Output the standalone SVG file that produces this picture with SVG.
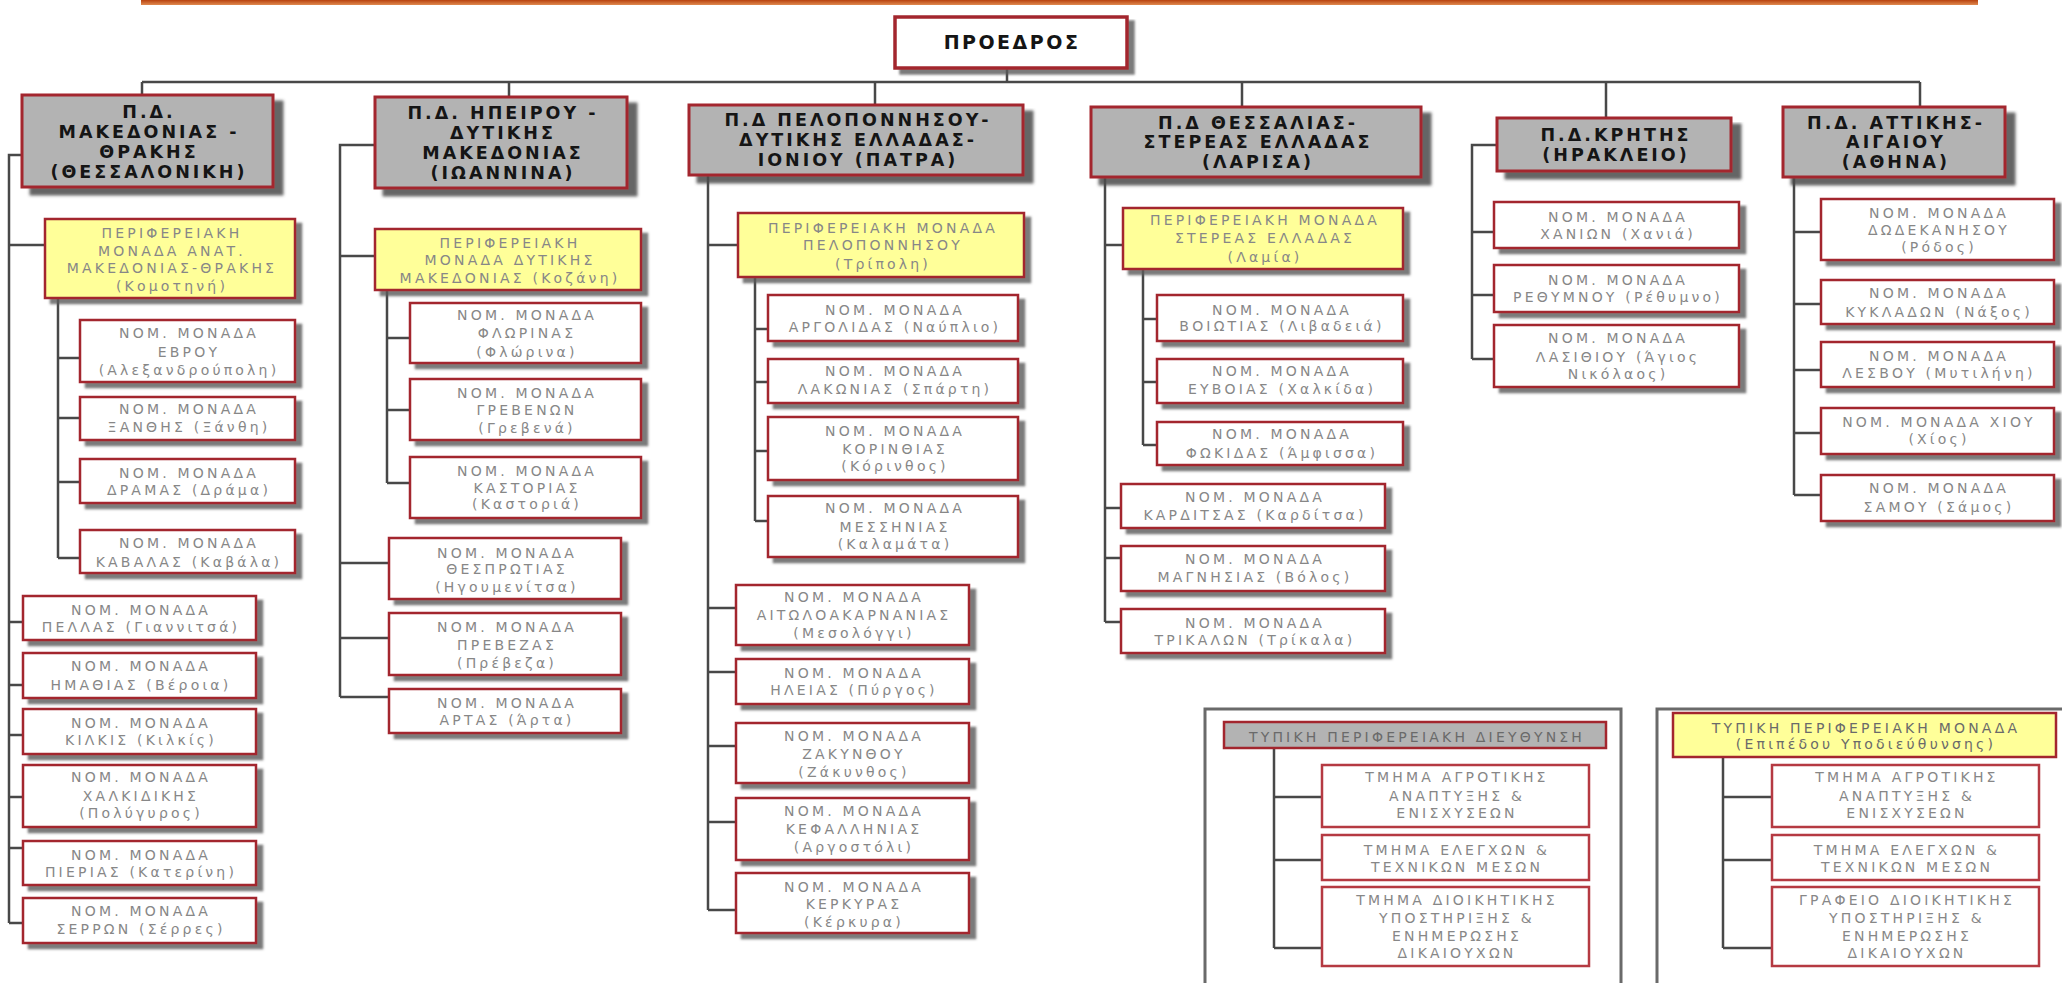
<svg xmlns="http://www.w3.org/2000/svg" width="2062" height="983" viewBox="0 0 2062 983">
<defs>
<filter id="shH" x="-5%" y="-5%" width="115%" height="130%"><feGaussianBlur in="SourceAlpha" stdDeviation="1.5"/><feOffset dx="9" dy="7" result="o"/><feFlood flood-color="#4a4a4a" flood-opacity="0.85"/><feComposite in2="o" operator="in"/><feMerge><feMergeNode/><feMergeNode in="SourceGraphic"/></feMerge></filter>
<filter id="shC" x="-5%" y="-5%" width="115%" height="130%"><feGaussianBlur in="SourceAlpha" stdDeviation="1.2"/><feOffset dx="6" dy="5" result="o"/><feFlood flood-color="#5a5a5a" flood-opacity="0.8"/><feComposite in2="o" operator="in"/><feMerge><feMergeNode/><feMergeNode in="SourceGraphic"/></feMerge></filter>
<linearGradient id="topbar" x1="0" y1="0" x2="0" y2="1"><stop offset="0" stop-color="#b8420f"/><stop offset="1" stop-color="#e08a50"/></linearGradient>
</defs>
<style>
.hd rect{fill:#b3b3b3;stroke:#a3262e;stroke-width:3;filter:url(#shH)}
.nm rect{fill:#ffffff;stroke:#a3262e;stroke-width:2.5;filter:url(#shC)}
.pm rect{fill:#ffff99;stroke:#a3262e;stroke-width:2.5;filter:url(#shC)}
.lg rect{fill:#ffffff;stroke:#b53a42;stroke-width:2.5}
.lgh rect{fill:#b3b3b3;stroke:#a3262e;stroke-width:2.5}
.lgy rect{fill:#ffff99;stroke:#a3262e;stroke-width:2.5}
.top rect{fill:#ffffff;stroke:#a3262e;stroke-width:3.5;filter:url(#shC)}
.hd text,.top text{font-family:"DejaVu Sans",Verdana,sans-serif;font-weight:bold;font-size:17.5px;fill:#151515;text-anchor:middle;letter-spacing:3px}
.top text{font-size:19px;letter-spacing:2.5px}
.nm text,.pm text,.lg text,.lgh text,.lgy text{font-family:"DejaVu Sans",Verdana,sans-serif;font-size:14px;fill:#878787;text-anchor:middle;letter-spacing:3.2px}
.lgh text,.lgy text{fill:#6a6a6a}
#connectors path{fill:none;stroke:#484848;stroke-width:2.5}
#frames path{fill:none;stroke:#6a6a6a;stroke-width:3}
</style>
<rect x="141" y="0" width="1837" height="5" fill="url(#topbar)"/>
<g id="connectors">
<path d="M1007 68V82M142 82H1920M142 82V95M509 82V97M875 82V105M1242 82V107M1606 82V118M1920 82V107"/>
<path d="M22 155H9V923M9 245H45M9 622H23M9 685H23M9 735H23M9 797H23M9 848H23M9 923H23"/>
<path d="M58 298V558M58 358H80M58 418H80M58 482H80M58 558H80"/>
<path d="M375 145H340V697M340 256H375M340 563H389M340 638H389M340 697H389"/>
<path d="M387 290V483M387 338H410M387 410H410M387 483H410"/>
<path d="M708 175V910M708 245H738M708 608H736M708 672H736M708 746H736M708 822H736M708 910H736"/>
<path d="M755 277V521M755 329H768M755 382H768M755 451H768M755 521H768"/>
<path d="M1105 177V622M1105 245H1123M1105 508H1121M1105 558H1121M1105 622H1121"/>
<path d="M1143 269V445M1143 319H1157M1143 382H1157M1143 445H1157"/>
<path d="M1497 145H1472V359M1472 232H1494M1472 295H1494M1472 359H1494"/>
<path d="M1794 177V495M1794 232H1821M1794 304H1821M1794 370H1821M1794 433H1821M1794 495H1821"/>
<path d="M1274 748V948M1274 797H1322M1274 860H1322M1274 948H1322"/>
<path d="M1723 757V948M1723 797H1772M1723 860H1772M1723 948H1772"/>
</g>
<g id="frames">
<path d="M1205 990V709H1621V990"/>
<path d="M1657 990V709H2070"/>
</g>
<g id="proedros" class="top"><rect x="895" y="17" width="232" height="51"/><text x="1012" y="49">ΠΡΟΕΔΡΟΣ</text></g>

<g id="pd-makedonias" class="hd"><rect x="22" y="95" width="251" height="92"/><text x="149" y="118">Π.Δ.</text><text x="149" y="138">ΜΑΚΕΔΟΝΙΑΣ -</text><text x="149" y="158">ΘΡΑΚΗΣ</text><text x="149" y="178">(ΘΕΣΣΑΛΟΝΙΚΗ)</text></g>
<g id="pd-ipeirou" class="hd"><rect x="375" y="97" width="252" height="91"/><text x="503" y="119">Π.Δ. ΗΠΕΙΡΟΥ -</text><text x="503" y="139">ΔΥΤΙΚΗΣ</text><text x="503" y="159">ΜΑΚΕΔΟΝΙΑΣ</text><text x="503" y="179">(ΙΩΑΝΝΙΝΑ)</text></g>
<g id="pd-peloponnisou" class="hd"><rect x="689" y="105" width="334" height="70"/><text x="858" y="126">Π.Δ ΠΕΛΟΠΟΝΝΗΣΟΥ-</text><text x="858" y="146">ΔΥΤΙΚΗΣ ΕΛΛΑΔΑΣ-</text><text x="858" y="166">ΙΟΝΙΟΥ (ΠΑΤΡΑ)</text></g>
<g id="pd-thessalias" class="hd"><rect x="1091" y="107" width="330" height="70"/><text x="1258" y="129">Π.Δ ΘΕΣΣΑΛΙΑΣ-</text><text x="1258" y="148">ΣΤΕΡΕΑΣ ΕΛΛΑΔΑΣ</text><text x="1258" y="168">(ΛΑΡΙΣΑ)</text></g>
<g id="pd-kritis" class="hd"><rect x="1497" y="118" width="234" height="53"/><text x="1616" y="141">Π.Δ.ΚΡΗΤΗΣ</text><text x="1616" y="161">(ΗΡΑΚΛΕΙΟ)</text></g>
<g id="pd-attikis" class="hd"><rect x="1783" y="107" width="222" height="70"/><text x="1896" y="129">Π.Δ. ΑΤΤΙΚΗΣ-</text><text x="1896" y="148">ΑΙΓΑΙΟΥ</text><text x="1896" y="168">(ΑΘΗΝΑ)</text></g>

<g id="pm-amth" class="pm"><rect x="45" y="219" width="250" height="79"/><text x="172" y="238">ΠΕΡΙΦΕΡΕΙΑΚΗ</text><text x="172" y="256">ΜΟΝΑΔΑ ΑΝΑΤ.</text><text x="172" y="273">ΜΑΚΕΔΟΝΙΑΣ-ΘΡΑΚΗΣ</text><text x="172" y="291">(Κομοτηνή)</text></g>
<g id="nm-evrou" class="nm"><rect x="80" y="320" width="215" height="62"/><text x="189" y="338">ΝΟΜ. ΜΟΝΑΔΑ</text><text x="189" y="357">ΕΒΡΟΥ</text><text x="189" y="375">(Αλεξανδρούπολη)</text></g>
<g id="nm-xanthis" class="nm"><rect x="80" y="397" width="215" height="43"/><text x="189" y="414">ΝΟΜ. ΜΟΝΑΔΑ</text><text x="189" y="432">ΞΑΝΘΗΣ (Ξάνθη)</text></g>
<g id="nm-dramas" class="nm"><rect x="80" y="459" width="215" height="44"/><text x="189" y="478">ΝΟΜ. ΜΟΝΑΔΑ</text><text x="189" y="495">ΔΡΑΜΑΣ (Δράμα)</text></g>
<g id="nm-kavalas" class="nm"><rect x="80" y="530" width="215" height="43"/><text x="189" y="548">ΝΟΜ. ΜΟΝΑΔΑ</text><text x="189" y="567">ΚΑΒΑΛΑΣ (Καβάλα)</text></g>
<g id="nm-pellas" class="nm"><rect x="23" y="596" width="233" height="44"/><text x="141" y="615">ΝΟΜ. ΜΟΝΑΔΑ</text><text x="141" y="632">ΠΕΛΛΑΣ (Γιαννιτσά)</text></g>
<g id="nm-imathias" class="nm"><rect x="23" y="653" width="233" height="45"/><text x="141" y="671">ΝΟΜ. ΜΟΝΑΔΑ</text><text x="141" y="690">ΗΜΑΘΙΑΣ (Βέροια)</text></g>
<g id="nm-kilkis" class="nm"><rect x="23" y="709" width="233" height="45"/><text x="141" y="728">ΝΟΜ. ΜΟΝΑΔΑ</text><text x="141" y="745">ΚΙΛΚΙΣ (Κιλκίς)</text></g>
<g id="nm-chalkidikis" class="nm"><rect x="23" y="765" width="233" height="62"/><text x="141" y="782">ΝΟΜ. ΜΟΝΑΔΑ</text><text x="141" y="801">ΧΑΛΚΙΔΙΚΗΣ</text><text x="141" y="818">(Πολύγυρος)</text></g>
<g id="nm-pierias" class="nm"><rect x="23" y="841" width="233" height="44"/><text x="141" y="860">ΝΟΜ. ΜΟΝΑΔΑ</text><text x="141" y="877">ΠΙΕΡΙΑΣ (Κατερίνη)</text></g>
<g id="nm-serron" class="nm"><rect x="23" y="898" width="233" height="45"/><text x="141" y="916">ΝΟΜ. ΜΟΝΑΔΑ</text><text x="141" y="934">ΣΕΡΡΩΝ (Σέρρες)</text></g>

<g id="pm-dm" class="pm"><rect x="375" y="229" width="266" height="61"/><text x="510" y="248">ΠΕΡΙΦΕΡΕΙΑΚΗ</text><text x="510" y="265">ΜΟΝΑΔΑ ΔΥΤΙΚΗΣ</text><text x="510" y="283">ΜΑΚΕΔΟΝΙΑΣ (Κοζάνη)</text></g>
<g id="nm-florinas" class="nm"><rect x="410" y="303" width="231" height="60"/><text x="527" y="320">ΝΟΜ. ΜΟΝΑΔΑ</text><text x="527" y="338">ΦΛΩΡΙΝΑΣ</text><text x="527" y="357">(Φλώρινα)</text></g>
<g id="nm-grevenon" class="nm"><rect x="410" y="379" width="231" height="61"/><text x="527" y="398">ΝΟΜ. ΜΟΝΑΔΑ</text><text x="527" y="415">ΓΡΕΒΕΝΩΝ</text><text x="527" y="433">(Γρεβενά)</text></g>
<g id="nm-kastorias" class="nm"><rect x="410" y="457" width="231" height="61"/><text x="527" y="476">ΝΟΜ. ΜΟΝΑΔΑ</text><text x="527" y="493">ΚΑΣΤΟΡΙΑΣ</text><text x="527" y="509">(Καστοριά)</text></g>
<g id="nm-thesprotias" class="nm"><rect x="389" y="538" width="232" height="61"/><text x="507" y="558">ΝΟΜ. ΜΟΝΑΔΑ</text><text x="507" y="574">ΘΕΣΠΡΩΤΙΑΣ</text><text x="507" y="592">(Ηγουμενίτσα)</text></g>
<g id="nm-prevezas" class="nm"><rect x="389" y="613" width="232" height="62"/><text x="507" y="632">ΝΟΜ. ΜΟΝΑΔΑ</text><text x="507" y="650">ΠΡΕΒΕΖΑΣ</text><text x="507" y="668">(Πρέβεζα)</text></g>
<g id="nm-artas" class="nm"><rect x="389" y="689" width="232" height="44"/><text x="507" y="708">ΝΟΜ. ΜΟΝΑΔΑ</text><text x="507" y="725">ΑΡΤΑΣ (Άρτα)</text></g>

<g id="pm-pel" class="pm"><rect x="738" y="213" width="286" height="64"/><text x="883" y="233">ΠΕΡΙΦΕΡΕΙΑΚΗ ΜΟΝΑΔΑ</text><text x="883" y="250">ΠΕΛΟΠΟΝΝΗΣΟΥ</text><text x="883" y="269">(Τρίπολη)</text></g>
<g id="nm-argolidas" class="nm"><rect x="768" y="295" width="250" height="46"/><text x="895" y="315">ΝΟΜ. ΜΟΝΑΔΑ</text><text x="895" y="332">ΑΡΓΟΛΙΔΑΣ (Ναύπλιο)</text></g>
<g id="nm-lakonias" class="nm"><rect x="768" y="359" width="250" height="44"/><text x="895" y="376">ΝΟΜ. ΜΟΝΑΔΑ</text><text x="895" y="394">ΛΑΚΩΝΙΑΣ (Σπάρτη)</text></g>
<g id="nm-korinthias" class="nm"><rect x="768" y="417" width="250" height="63"/><text x="895" y="436">ΝΟΜ. ΜΟΝΑΔΑ</text><text x="895" y="454">ΚΟΡΙΝΘΙΑΣ</text><text x="895" y="471">(Κόρινθος)</text></g>
<g id="nm-messinias" class="nm"><rect x="768" y="496" width="250" height="61"/><text x="895" y="513">ΝΟΜ. ΜΟΝΑΔΑ</text><text x="895" y="532">ΜΕΣΣΗΝΙΑΣ</text><text x="895" y="549">(Καλαμάτα)</text></g>
<g id="nm-aitoloakarnanias" class="nm"><rect x="736" y="585" width="233" height="60"/><text x="854" y="602">ΝΟΜ. ΜΟΝΑΔΑ</text><text x="854" y="620">ΑΙΤΩΛΟΑΚΑΡΝΑΝΙΑΣ</text><text x="854" y="638">(Μεσολόγγι)</text></g>
<g id="nm-ileias" class="nm"><rect x="736" y="659" width="233" height="45"/><text x="854" y="678">ΝΟΜ. ΜΟΝΑΔΑ</text><text x="854" y="695">ΗΛΕΙΑΣ (Πύργος)</text></g>
<g id="nm-zakynthou" class="nm"><rect x="736" y="723" width="233" height="60"/><text x="854" y="741">ΝΟΜ. ΜΟΝΑΔΑ</text><text x="854" y="759">ΖΑΚΥΝΘΟΥ</text><text x="854" y="777">(Ζάκυνθος)</text></g>
<g id="nm-kefallinias" class="nm"><rect x="736" y="798" width="233" height="62"/><text x="854" y="816">ΝΟΜ. ΜΟΝΑΔΑ</text><text x="854" y="834">ΚΕΦΑΛΛΗΝΙΑΣ</text><text x="854" y="852">(Αργοστόλι)</text></g>
<g id="nm-kerkyras" class="nm"><rect x="736" y="873" width="233" height="60"/><text x="854" y="892">ΝΟΜ. ΜΟΝΑΔΑ</text><text x="854" y="909">ΚΕΡΚΥΡΑΣ</text><text x="854" y="927">(Κέρκυρα)</text></g>

<g id="pm-stereas" class="pm"><rect x="1123" y="208" width="280" height="61"/><text x="1265" y="225">ΠΕΡΙΦΕΡΕΙΑΚΗ ΜΟΝΑΔΑ</text><text x="1265" y="243">ΣΤΕΡΕΑΣ ΕΛΛΑΔΑΣ</text><text x="1265" y="262">(Λαμία)</text></g>
<g id="nm-voiotias" class="nm"><rect x="1157" y="295" width="246" height="46"/><text x="1282" y="315">ΝΟΜ. ΜΟΝΑΔΑ</text><text x="1282" y="331">ΒΟΙΩΤΙΑΣ (Λιβαδειά)</text></g>
<g id="nm-evvoias" class="nm"><rect x="1157" y="359" width="246" height="44"/><text x="1282" y="376">ΝΟΜ. ΜΟΝΑΔΑ</text><text x="1282" y="394">ΕΥΒΟΙΑΣ (Χαλκίδα)</text></g>
<g id="nm-fokidas" class="nm"><rect x="1157" y="422" width="246" height="43"/><text x="1282" y="439">ΝΟΜ. ΜΟΝΑΔΑ</text><text x="1282" y="458">ΦΩΚΙΔΑΣ (Άμφισσα)</text></g>
<g id="nm-karditsas" class="nm"><rect x="1121" y="484" width="264" height="44"/><text x="1255" y="502">ΝΟΜ. ΜΟΝΑΔΑ</text><text x="1255" y="520">ΚΑΡΔΙΤΣΑΣ (Καρδίτσα)</text></g>
<g id="nm-magnisias" class="nm"><rect x="1121" y="546" width="264" height="45"/><text x="1255" y="564">ΝΟΜ. ΜΟΝΑΔΑ</text><text x="1255" y="582">ΜΑΓΝΗΣΙΑΣ (Βόλος)</text></g>
<g id="nm-trikalon" class="nm"><rect x="1121" y="609" width="264" height="44"/><text x="1255" y="628">ΝΟΜ. ΜΟΝΑΔΑ</text><text x="1255" y="645">ΤΡΙΚΑΛΩΝ (Τρίκαλα)</text></g>

<g id="nm-chanion" class="nm"><rect x="1494" y="202" width="245" height="46"/><text x="1618" y="222">ΝΟΜ. ΜΟΝΑΔΑ</text><text x="1618" y="239">ΧΑΝΙΩΝ (Χανιά)</text></g>
<g id="nm-rethymnou" class="nm"><rect x="1494" y="265" width="245" height="47"/><text x="1618" y="285">ΝΟΜ. ΜΟΝΑΔΑ</text><text x="1618" y="302">ΡΕΘΥΜΝΟΥ (Ρέθυμνο)</text></g>
<g id="nm-lasithiou" class="nm"><rect x="1494" y="325" width="245" height="62"/><text x="1618" y="343">ΝΟΜ. ΜΟΝΑΔΑ</text><text x="1618" y="362">ΛΑΣΙΘΙΟΥ (Άγιος</text><text x="1618" y="379">Νικόλαος)</text></g>

<g id="nm-dodekanisou" class="nm"><rect x="1821" y="199" width="233" height="61"/><text x="1939" y="218">ΝΟΜ. ΜΟΝΑΔΑ</text><text x="1939" y="235">ΔΩΔΕΚΑΝΗΣΟΥ</text><text x="1939" y="252">(Ρόδος)</text></g>
<g id="nm-kykladon" class="nm"><rect x="1821" y="280" width="233" height="44"/><text x="1939" y="298">ΝΟΜ. ΜΟΝΑΔΑ</text><text x="1939" y="317">ΚΥΚΛΑΔΩΝ (Νάξος)</text></g>
<g id="nm-lesvou" class="nm"><rect x="1821" y="342" width="233" height="45"/><text x="1939" y="361">ΝΟΜ. ΜΟΝΑΔΑ</text><text x="1939" y="378">ΛΕΣΒΟΥ (Μυτιλήνη)</text></g>
<g id="nm-chiou" class="nm"><rect x="1821" y="408" width="233" height="46"/><text x="1939" y="427">ΝΟΜ. ΜΟΝΑΔΑ ΧΙΟΥ</text><text x="1939" y="444">(Χίος)</text></g>
<g id="nm-samou" class="nm"><rect x="1821" y="475" width="233" height="46"/><text x="1939" y="493">ΝΟΜ. ΜΟΝΑΔΑ</text><text x="1939" y="512">ΣΑΜΟΥ (Σάμος)</text></g>

<g id="lg-diefthynsi" class="lgh"><rect x="1224" y="722" width="382" height="26"/><text x="1417" y="742">ΤΥΠΙΚΗ ΠΕΡΙΦΕΡΕΙΑΚΗ ΔΙΕΥΘΥΝΣΗ</text></g>
<g id="lg-d-agrotikis" class="lg"><rect x="1322" y="765" width="267" height="62"/><text x="1457" y="782">ΤΜΗΜΑ ΑΓΡΟΤΙΚΗΣ</text><text x="1457" y="801">ΑΝΑΠΤΥΞΗΣ &amp;</text><text x="1457" y="818">ΕΝΙΣΧΥΣΕΩΝ</text></g>
<g id="lg-d-elegchon" class="lg"><rect x="1322" y="835" width="267" height="45"/><text x="1457" y="855">ΤΜΗΜΑ ΕΛΕΓΧΩΝ &amp;</text><text x="1457" y="872">ΤΕΧΝΙΚΩΝ ΜΕΣΩΝ</text></g>
<g id="lg-d-dioikitikis" class="lg"><rect x="1322" y="887" width="267" height="79"/><text x="1457" y="905">ΤΜΗΜΑ ΔΙΟΙΚΗΤΙΚΗΣ</text><text x="1457" y="923">ΥΠΟΣΤΗΡΙΞΗΣ &amp;</text><text x="1457" y="941">ΕΝΗΜΕΡΩΣΗΣ</text><text x="1457" y="958">ΔΙΚΑΙΟΥΧΩΝ</text></g>

<g id="lg-monada" class="lgy"><rect x="1673" y="713" width="383" height="44"/><text x="1866" y="733">ΤΥΠΙΚΗ ΠΕΡΙΦΕΡΕΙΑΚΗ ΜΟΝΑΔΑ</text><text x="1866" y="749">(Επιπέδου Υποδιεύθυνσης)</text></g>
<g id="lg-m-agrotikis" class="lg"><rect x="1772" y="765" width="267" height="62"/><text x="1907" y="782">ΤΜΗΜΑ ΑΓΡΟΤΙΚΗΣ</text><text x="1907" y="801">ΑΝΑΠΤΥΞΗΣ &amp;</text><text x="1907" y="818">ΕΝΙΣΧΥΣΕΩΝ</text></g>
<g id="lg-m-elegchon" class="lg"><rect x="1772" y="835" width="267" height="45"/><text x="1907" y="855">ΤΜΗΜΑ ΕΛΕΓΧΩΝ &amp;</text><text x="1907" y="872">ΤΕΧΝΙΚΩΝ ΜΕΣΩΝ</text></g>
<g id="lg-m-dioikitikis" class="lg"><rect x="1772" y="887" width="267" height="79"/><text x="1907" y="905">ΓΡΑΦΕΙΟ ΔΙΟΙΚΗΤΙΚΗΣ</text><text x="1907" y="923">ΥΠΟΣΤΗΡΙΞΗΣ &amp;</text><text x="1907" y="941">ΕΝΗΜΕΡΩΣΗΣ</text><text x="1907" y="958">ΔΙΚΑΙΟΥΧΩΝ</text></g>
</svg>
